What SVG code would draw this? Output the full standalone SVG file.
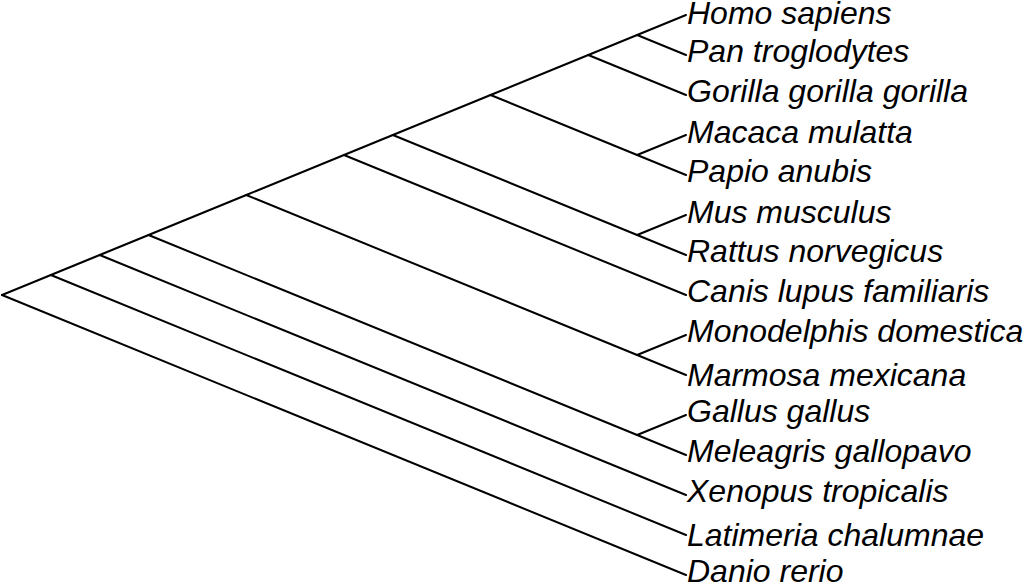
<svg xmlns="http://www.w3.org/2000/svg" width="1026" height="588" viewBox="0 0 1026 588">
<style>
.e{stroke:#000;stroke-width:2;fill:none;stroke-linecap:round}
.t{font-family:"Liberation Sans",Arial,sans-serif;font-style:italic;font-size:32px;fill:#000}
</style>
<rect width="1026" height="588" fill="#fff"/>
<g id="connectors">
<line class="e" x1="2" y1="295" x2="50.86" y2="275"/>
<line class="e" x1="2" y1="295" x2="686" y2="575"/>
<line class="e" x1="50.86" y1="275" x2="99.71" y2="255"/>
<line class="e" x1="50.86" y1="275" x2="686" y2="535"/>
<line class="e" x1="99.71" y1="255" x2="148.57" y2="235"/>
<line class="e" x1="99.71" y1="255" x2="686" y2="495"/>
<line class="e" x1="148.57" y1="235" x2="246.29" y2="195"/>
<line class="e" x1="148.57" y1="235" x2="637.14" y2="435"/>
<line class="e" x1="637.14" y1="435" x2="686" y2="415"/>
<line class="e" x1="637.14" y1="435" x2="686" y2="455"/>
<line class="e" x1="246.29" y1="195" x2="344" y2="155"/>
<line class="e" x1="246.29" y1="195" x2="637.14" y2="355"/>
<line class="e" x1="637.14" y1="355" x2="686" y2="335"/>
<line class="e" x1="637.14" y1="355" x2="686" y2="375"/>
<line class="e" x1="344" y1="155" x2="392.86" y2="135"/>
<line class="e" x1="344" y1="155" x2="686" y2="295"/>
<line class="e" x1="392.86" y1="135" x2="490.57" y2="95"/>
<line class="e" x1="392.86" y1="135" x2="637.14" y2="235"/>
<line class="e" x1="637.14" y1="235" x2="686" y2="215"/>
<line class="e" x1="637.14" y1="235" x2="686" y2="255"/>
<line class="e" x1="490.57" y1="95" x2="588.29" y2="55"/>
<line class="e" x1="490.57" y1="95" x2="637.14" y2="155"/>
<line class="e" x1="637.14" y1="155" x2="686" y2="135"/>
<line class="e" x1="637.14" y1="155" x2="686" y2="175"/>
<line class="e" x1="588.29" y1="55" x2="637.14" y2="35"/>
<line class="e" x1="588.29" y1="55" x2="686" y2="95"/>
<line class="e" x1="637.14" y1="35" x2="686" y2="15"/>
<line class="e" x1="637.14" y1="35" x2="686" y2="55"/>
</g>
<g id="leaf-homo"><text class="t" x="687" y="24">Homo sapiens</text></g>
<g id="leaf-pan"><text class="t" x="687" y="62">Pan troglodytes</text></g>
<g id="leaf-gorilla"><text class="t" x="687" y="102">Gorilla gorilla gorilla</text></g>
<g id="leaf-macaca"><text class="t" x="687" y="143">Macaca mulatta</text></g>
<g id="leaf-papio"><text class="t" x="687" y="182">Papio anubis</text></g>
<g id="leaf-mus"><text class="t" x="687" y="223">Mus musculus</text></g>
<g id="leaf-rattus"><text class="t" x="687" y="262">Rattus norvegicus</text></g>
<g id="leaf-canis"><text class="t" x="687" y="302">Canis lupus familiaris</text></g>
<g id="leaf-monodelphis"><text class="t" x="687" y="342">Monodelphis domestica</text></g>
<g id="leaf-marmosa"><text class="t" x="687" y="386">Marmosa mexicana</text></g>
<g id="leaf-gallus"><text class="t" x="687" y="422">Gallus gallus</text></g>
<g id="leaf-meleagris"><text class="t" x="687" y="462">Meleagris gallopavo</text></g>
<g id="leaf-xenopus"><text class="t" x="687" y="502">Xenopus tropicalis</text></g>
<g id="leaf-latimeria"><text class="t" x="687" y="546">Latimeria chalumnae</text></g>
<g id="leaf-danio"><text class="t" x="687" y="582">Danio rerio</text></g>
</svg>
